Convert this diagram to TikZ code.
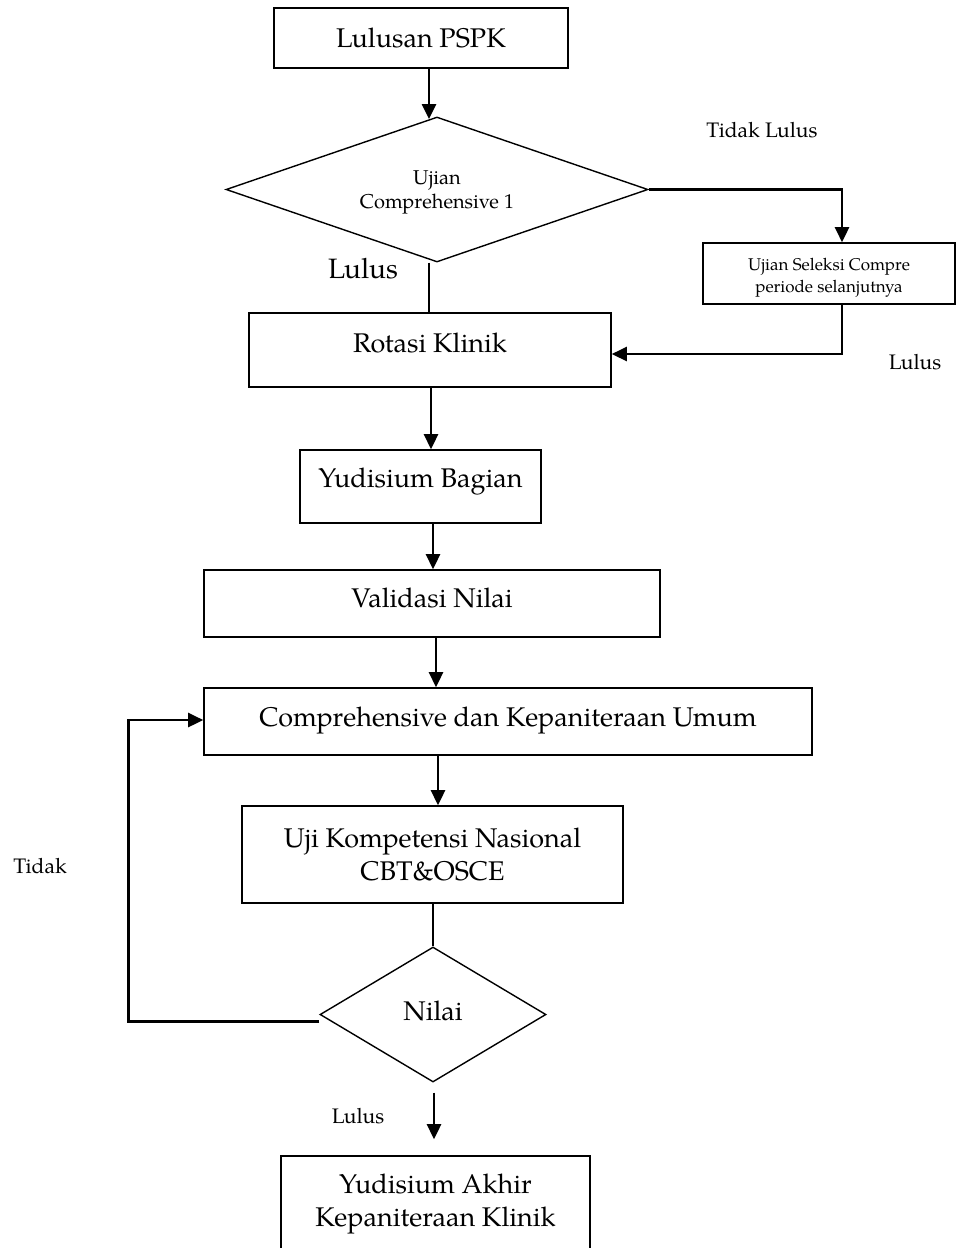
\documentclass[tikz,border=0pt]{standalone}
\usepackage{fontspec}
\setmainfont{texgyrepagella}[Extension=.otf,UprightFont=*-regular,BoldFont=*-bold,ItalicFont=*-italic,BoldItalicFont=*-bolditalic]
\usetikzlibrary{shapes.geometric,arrows.meta}
\begin{document}
\begin{tikzpicture}[x=1pt,y=-1pt,
  box/.style={draw,line width=1.6pt,inner sep=0pt,align=center,font=\fontsize{27}{33}\selectfont},
  dec/.style={draw,diamond,line width=1.4pt,inner sep=0pt},
  arr/.style={line width=2.6pt,-{Triangle[length=15pt,width=14pt]}},
  ln/.style={line width=1.5pt},
  lbl/.style={font=\fontsize{21}{25}\selectfont}]
\clip (0,0) rectangle (956,1248);
\fill[white] (0,0) rectangle (956,1248);
% nodes
\node[box,minimum width=294pt,minimum height=60pt] (pspk) at (421,38) {Lulusan PSPK};
\node[dec,minimum width=422pt,minimum height=145pt,
  label={[align=center,yshift=-3pt,font=\fontsize{20}{24}\selectfont]center:Ujian\\Comprehensive 1}] (d1) at (437,189.5) {};
\node[box,minimum width=252pt,minimum height=61pt,
  label={[align=center,yshift=-4pt,font=\fontsize{17}{22}\selectfont]center:Ujian Seleksi Compre\\periode selanjutnya}] (sel) at (829,273.5) {};
\node[box,minimum width=362pt,minimum height=74pt,text depth=14pt] (rot) at (430,350) {Rotasi Klinik};
\node[box,minimum width=241pt,minimum height=73pt,text depth=18pt] (yb) at (420.5,486.5) {Yudisium Bagian};
\node[box,minimum width=456pt,minimum height=67pt,text depth=12pt] (val) at (432,603.5) {Validasi Nilai};
\node[box,minimum width=608pt,minimum height=67pt,text depth=10pt] (comp) at (508,721.5) {Comprehensive dan Kepaniteraan Umum};
\node[box,minimum width=381pt,minimum height=97pt] (uji) at (432.5,854.5) {Uji Kompetensi Nasional\\CBT\&OSCE};
\node[dec,minimum width=226pt,minimum height=135pt,
  label={[font=\fontsize{27}{33}\selectfont,yshift=4pt]center:Nilai}] (d2) at (433,1014.5) {};
\node[box,minimum width=309pt,minimum height=96pt] (fin) at (435.5,1204) {Yudisium Akhir\\Kepaniteraan Klinik};
% labels
\node[lbl] (tl) at (762,130) {Tidak Lulus};
\node[font=\fontsize{28}{33}\selectfont] (l1) at (363,269) {Lulus};
\node[lbl] (l2) at (915,362) {Lulus};
\node[lbl] (td) at (40,866) {Tidak};
\node[lbl] (l3) at (358,1116) {Lulus};
% connectors
\draw[arr] (pspk.south -| 429,0) -- (429,119);
\draw[ln] (d1.south -| 429,0) -- (rot.north -| 429,0);
\draw[arr] (d1.east) -| ([xshift=13pt]sel.north);
\draw[arr] ([xshift=13pt]sel.south) |- ([yshift=-4pt]rot.east);
\draw[arr] (rot.south -| 431,0) -- (yb.north -| 431,0);
\draw[arr] (yb.south -| 433,0) -- (val.north -| 433,0);
\draw[arr] (val.south -| 436,0) -- (comp.north -| 436,0);
\draw[arr] (comp.south -| 438,0) -- (uji.north -| 438,0);
\draw[ln] (uji.south -| d2.north) -- (d2.north);
\draw[arr] ([yshift=-7pt]d2.west) -- ++(-191,0) |- ([yshift=1.5pt]comp.west);
\draw[arr] ([yshift=-10pt]d2.south -| 434,0) -- ([yshift=16pt]fin.north -| 434,0);
\end{tikzpicture}
\end{document}
